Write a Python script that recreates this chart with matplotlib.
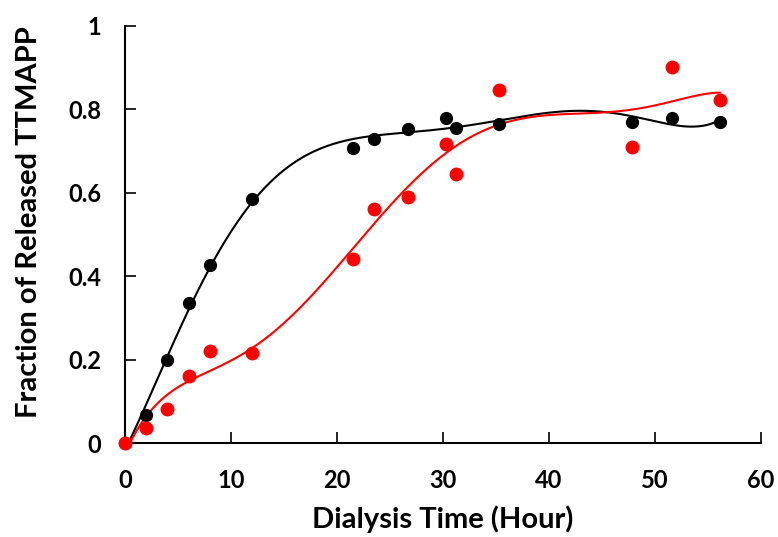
import numpy as np
import matplotlib
matplotlib.use("Agg")
import matplotlib.pyplot as plt

# Sampling times (hours) and released fraction for the two formulations
time_h = [0, 2, 4, 6, 8, 12, 21.5, 23.5, 26.7, 30.3, 31.2, 35.3, 47.8, 51.6, 56.1]
release_black = [0, 0.066, 0.198, 0.336, 0.426, 0.585, 0.707, 0.729, 0.752,
                 0.778, 0.756, 0.764, 0.770, 0.778, 0.770]
release_red = [0, 0.035, 0.081, 0.160, 0.220, 0.215, 0.441, 0.562, 0.589,
               0.716, 0.644, 0.845, 0.709, 0.901, 0.821]

x_ticks = [0, 10, 20, 30, 40, 50, 60]
y_ticks = [0, 0.2, 0.4, 0.6, 0.8, 1]
y_tick_labels = ["0", "0.2", "0.4", "0.6", "0.8", "1"]

plt.rcParams['font.family'] = ['Lato', 'DejaVu Sans']

fig = plt.figure(figsize=(7.78, 5.37), dpi=100)
ax = fig.add_axes([0.1607, 0.175, 0.8175, 0.777])

t = np.array(time_h)
t_fine = np.linspace(0, t.max(), 400)

# 6th order polynomial trend line for each series
for values, color, ms in [(release_black, 'black', 8.5), (release_red, 'red', 9)]:
    coeffs = np.polyfit(t, values, 6)
    ax.plot(t_fine, np.polyval(coeffs, t_fine), color=color, lw=1.5, zorder=2)
    ax.plot(t, values, 'o', color=color, ms=ms, zorder=3, clip_on=False)

ax.set_xlim(0, 60)
ax.set_ylim(0, 1)
ax.set_xticks(x_ticks)
ax.set_yticks(y_ticks)
ax.set_yticklabels(y_tick_labels)

for side in ['top', 'right']:
    ax.spines[side].set_visible(False)
for side in ['left', 'bottom']:
    ax.spines[side].set_linewidth(1.5)

ax.tick_params(direction='in', length=8, width=1.2, labelsize=17)
ax.tick_params(axis='x', pad=19)
ax.tick_params(axis='y', pad=17)
for lbl in ax.get_xticklabels() + ax.get_yticklabels():
    lbl.set_fontweight('bold')

ax.set_xlabel('Dialysis Time (Hour)', fontsize=21, fontweight='bold')
ax.set_ylabel('Fraction of Released TTMAPP', fontsize=21, fontweight='bold')
ax.xaxis.set_label_coords(0.5, -0.15)
ax.yaxis.set_label_coords(-0.13, 0.53)

fig.savefig('out.png', dpi=100)
